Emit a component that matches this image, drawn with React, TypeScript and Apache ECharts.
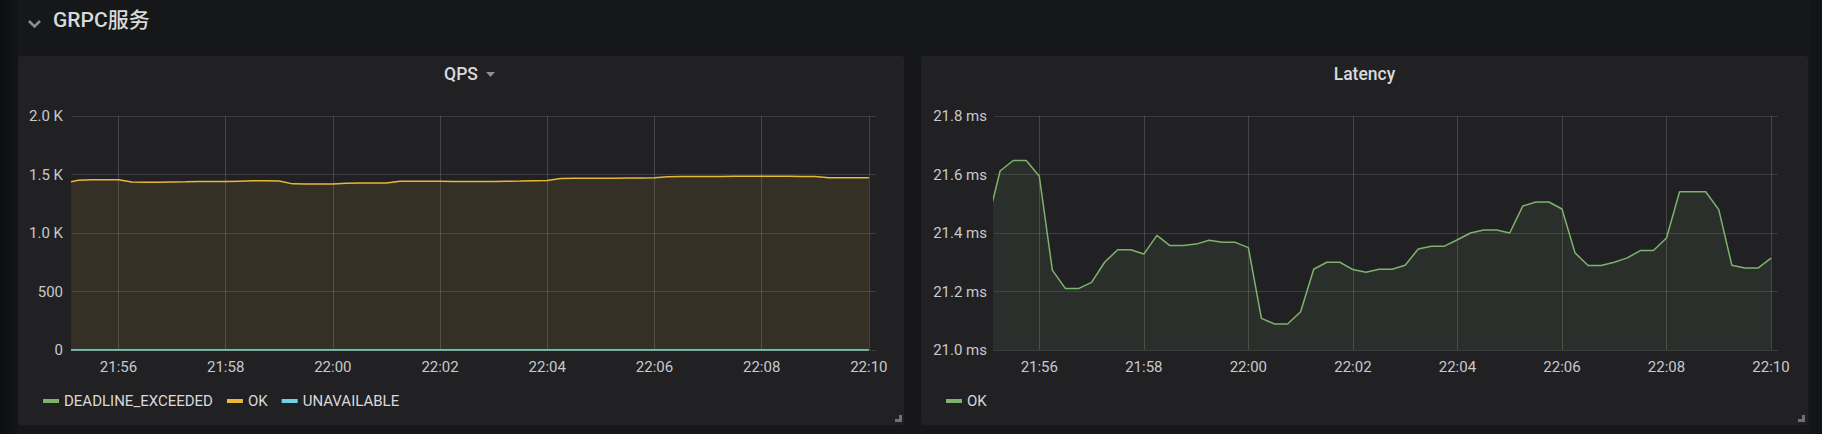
import React, { useEffect, useRef } from "react";
import * as echarts from "echarts";

// ---- data ----
const times = [
  "21:55:00", "21:55:15", "21:55:30", "21:55:45",
  "21:56:00", "21:56:15", "21:56:30", "21:56:45",
  "21:57:00", "21:57:15", "21:57:30", "21:57:45",
  "21:58:00", "21:58:15", "21:58:30", "21:58:45",
  "21:59:00", "21:59:15", "21:59:30", "21:59:45",
  "22:00:00", "22:00:15", "22:00:30", "22:00:45",
  "22:01:00", "22:01:15", "22:01:30", "22:01:45",
  "22:02:00", "22:02:15", "22:02:30", "22:02:45",
  "22:03:00", "22:03:15", "22:03:30", "22:03:45",
  "22:04:00", "22:04:15", "22:04:30", "22:04:45",
  "22:05:00", "22:05:15", "22:05:30", "22:05:45",
  "22:06:00", "22:06:15", "22:06:30", "22:06:45",
  "22:07:00", "22:07:15", "22:07:30", "22:07:45",
  "22:08:00", "22:08:15", "22:08:30", "22:08:45",
  "22:09:00", "22:09:15", "22:09:30", "22:09:45",
  "22:10:00",
];

const qpsOk = [
  1428, 1450, 1455, 1455,
  1455, 1436, 1434, 1434,
  1436, 1437, 1440, 1440,
  1440, 1443, 1446, 1446,
  1445, 1420, 1418, 1418,
  1418, 1426, 1427, 1427,
  1428, 1442, 1443, 1443,
  1442, 1441, 1440, 1440,
  1441, 1443, 1444, 1446,
  1448, 1466, 1467, 1467,
  1468, 1469, 1470, 1471,
  1472, 1481, 1482, 1482,
  1483, 1483, 1484, 1484,
  1484, 1484, 1484, 1483,
  1483, 1473, 1472, 1472,
  1472,
];

const qpsDeadline = [
  0, 0, 0, 0, 0, 0, 0, 0, 0, 0, 0, 0, 0, 0, 0, 0, 0, 0, 0, 0,
  0, 0, 0, 0, 0, 0, 0, 0, 0, 0, 0, 0, 0, 0, 0, 0, 0, 0, 0, 0,
  0, 0, 0, 0, 0, 0, 0, 0, 0, 0, 0, 0, 0, 0, 0, 0, 0, 0, 0, 0,
  0,
];

const qpsUnavailable = [
  1, 1, 1, 0, 0, 0, 0, 0, 0, 0, 0, 0, 0, 0, 0, 0, 0, 0, 0, 0,
  0, 0, 0, 0, 0, 0, 0, 0, 0, 0, 0, 0, 0, 0, 0, 0, 0, 0, 0, 0,
  0, 0, 0, 0, 0, 0, 0, 0, 0, 0, 0, 0, 0, 0, 0, 0, 0, 0, 0, 0,
  0,
];

const latencyOk = [
  21.43, 21.612, 21.648, 21.648,
  21.594, 21.273, 21.21, 21.21,
  21.231, 21.3, 21.343, 21.343,
  21.328, 21.392, 21.357, 21.357,
  21.362, 21.375, 21.368, 21.368,
  21.35, 21.108, 21.089, 21.089,
  21.131, 21.276, 21.3, 21.3,
  21.275, 21.266, 21.276, 21.276,
  21.29, 21.345, 21.355, 21.355,
  21.377, 21.4, 21.41, 21.41,
  21.4, 21.492, 21.506, 21.506,
  21.482, 21.332, 21.289, 21.289,
  21.3, 21.315, 21.34, 21.34,
  21.383, 21.541, 21.541, 21.541,
  21.48, 21.29, 21.28, 21.28,
  21.314,
];

const qpsLegend = ["DEADLINE_EXCEEDED", "OK", "UNAVAILABLE"];
const latencyLegend = ["OK"];
const rangeStart = "21:55:08";
const rangeEnd = "22:10:08";

// ---- helpers ----
const toMin = (t: string) => {
  const [h, m, s] = t.split(":").map(Number);
  return (h - 21) * 60 + m + s / 60;
};
const fmtTime = (v: number) => {
  const total = Math.round(v);
  const h = 21 + Math.floor(total / 60);
  const m = total % 60;
  return `${h}:${String(m).padStart(2, "0")}`;
};
const pts = (vals: number[]) => times.map((t, i) => [toMin(t), vals[i]]);

const C_GREEN = "#7EB26D";
const C_YELLOW = "#EAB839";
const C_CYAN = "#6ED0E0";
const FONT = "Roboto";
const LABEL = "#c8c9cb";
const TEXT = "#d8d9da";

export default function App() {
  const ref = useRef<HTMLDivElement>(null);

  useEffect(() => {
    if (!ref.current) return;
    const chart = echarts.init(ref.current, null, { renderer: "svg" });
    const xMin = toMin(rangeStart);
    const xMax = toMin(rangeEnd);

    const xAxisBase = (gridIndex: number) => ({
      type: "value",
      gridIndex,
      min: xMin,
      max: xMax,
      splitNumber: 7,
      minInterval: 2,
      maxInterval: 2,
      axisLine: { show: true, lineStyle: { color: "#3c3c3f", width: 1 } },
      axisTick: { show: false },
      axisLabel: {
        color: LABEL,
        fontSize: 15,
        fontFamily: FONT,
        margin: 9,
        showMinLabel: false,
        showMaxLabel: false,
        formatter: (v: number) => fmtTime(v),
      },
      splitLine: {
        show: true,
        showMinLine: false,
        showMaxLine: false,
        lineStyle: { color: "rgba(255,255,255,0.16)", width: 1 },
      },
    });

    const lineSeries = (
      name: string,
      vals: number[],
      color: string,
      axis: number
    ) => ({
      type: "line",
      name,
      xAxisIndex: axis,
      yAxisIndex: axis,
      data: pts(vals),
      showSymbol: false,
      symbol: "none",
      clip: true,
      lineStyle: { color, width: 1.5 },
      itemStyle: { color },
      areaStyle: { color, opacity: 0.1 },
    });

    chart.setOption({
      animation: false,
      backgroundColor: "#161719",
      textStyle: { fontFamily: FONT },
      graphic: [
        {
          type: "rect",
          z: -20,
          shape: { x: 0, y: 0, width: 18, height: 434 },
          style: {
            fill: new echarts.graphic.LinearGradient(0, 0, 1, 0, [
              { offset: 0, color: "#0d0e10" },
              { offset: 1, color: "#141517" },
            ]),
          },
        },
        {
          type: "rect",
          z: -20,
          shape: { x: 1810, y: 0, width: 12, height: 434 },
          style: { fill: "#131416" },
        },
        {
          type: "rect",
          z: -10,
          shape: { x: 18, y: 56, width: 886, height: 369, r: 3 },
          style: { fill: "#212124" },
        },
        {
          type: "rect",
          z: -10,
          shape: { x: 921, y: 56, width: 887, height: 369, r: 3 },
          style: { fill: "#212124" },
        },
        {
          type: "polyline",
          shape: { points: [[29, 21], [34.5, 26.5], [40, 21]] },
          style: { stroke: "#8e8e90", lineWidth: 2.5, fill: "none" },
        },
        {
          type: "text",
          x: 53,
          y: 20,
          style: {
            text: "GRPC服务",
            fill: TEXT,
            font: `500 21px ${FONT}, "Noto Sans CJK SC"`,
            verticalAlign: "middle",
          },
        },
        {
          type: "text",
          x: 461,
          y: 74,
          style: {
            text: "QPS",
            fill: TEXT,
            font: `500 17.5px ${FONT}`,
            align: "center",
            verticalAlign: "middle",
          },
        },
        {
          type: "polygon",
          shape: { points: [[486, 72], [495, 72], [490.5, 77]] },
          style: { fill: "#8e8e90" },
        },
        {
          type: "text",
          x: 1364.5,
          y: 74,
          style: {
            text: "Latency",
            fill: TEXT,
            font: `500 17.5px ${FONT}`,
            align: "center",
            verticalAlign: "middle",
          },
        },
        { type: "rect", shape: { x: 899, y: 415, width: 3, height: 7 }, style: { fill: "#707072" } },
        { type: "rect", shape: { x: 895, y: 419, width: 7, height: 3 }, style: { fill: "#707072" } },
        { type: "rect", shape: { x: 1802, y: 415, width: 3, height: 7 }, style: { fill: "#707072" } },
        { type: "rect", shape: { x: 1798, y: 419, width: 7, height: 3 }, style: { fill: "#707072" } },
      ],
      legend: [
        {
          left: 38,
          top: 387,
          icon: "rect",
          itemWidth: 16,
          itemHeight: 4,
          itemGap: 14,
          selectedMode: false,
          itemStyle: { borderWidth: 0 },
          textStyle: { color: TEXT, fontSize: 15, fontFamily: FONT, lineHeight: 18 },
          data: qpsLegend.map((n) => ({
            name: n,
            itemStyle: {
              borderWidth: 0,
              color: n === "OK" ? C_YELLOW : n === "UNAVAILABLE" ? C_CYAN : C_GREEN,
            },
          })),
        },
        {
          left: 941,
          top: 387,
          icon: "rect",
          itemWidth: 16,
          itemHeight: 4,
          itemGap: 14,
          selectedMode: false,
          itemStyle: { borderWidth: 0 },
          textStyle: { color: TEXT, fontSize: 15, fontFamily: FONT, lineHeight: 18 },
          data: latencyLegend.map((n) => ({
            name: n,
            itemStyle: { borderWidth: 0, color: C_GREEN },
          })),
        },
      ],
      grid: [
        { left: 72, top: 116, width: 804, height: 234, show: false },
        { left: 994, top: 116, width: 784, height: 234, show: false },
      ],
      xAxis: [xAxisBase(0), xAxisBase(1)],
      yAxis: [
        {
          type: "value",
          gridIndex: 0,
          min: 0,
          max: 2000,
          interval: 500,
          axisLine: { show: false },
          axisTick: { show: false },
          axisLabel: {
            color: LABEL,
            fontSize: 15,
            fontFamily: FONT,
            margin: 9,
            formatter: (v: number) => (v >= 1000 ? `${(v / 1000).toFixed(1)} K` : `${v}`),
          },
          splitLine: { lineStyle: { color: "rgba(255,255,255,0.12)", width: 1 } },
        },
        {
          type: "value",
          gridIndex: 1,
          min: 21,
          max: 21.8,
          interval: 0.2,
          axisLine: { show: false },
          axisTick: { show: false },
          axisLabel: {
            color: LABEL,
            fontSize: 15,
            fontFamily: FONT,
            margin: 7,
            formatter: (v: number) => `${v.toFixed(1)} ms`,
          },
          splitLine: { lineStyle: { color: "rgba(255,255,255,0.12)", width: 1 } },
        },
      ],
      series: [
        lineSeries("DEADLINE_EXCEEDED", qpsDeadline, C_GREEN, 0),
        lineSeries("OK", qpsOk, C_YELLOW, 0),
        lineSeries("UNAVAILABLE", qpsUnavailable, C_CYAN, 0),
        lineSeries("OK", latencyOk, C_GREEN, 1),
      ],
    });

    return () => chart.dispose();
  }, []);

  return (
    <div
      ref={ref}
      style={{ position: "absolute", left: 0, top: 0, width: 1822, height: 434 }}
    />
  );
}
